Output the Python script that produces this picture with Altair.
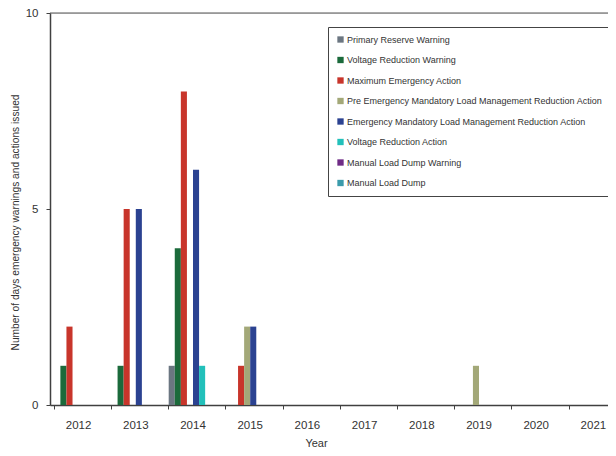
import altair as alt
import pandas as pd

years = ["2012", "2013", "2014", "2015", "2016", "2017", "2018", "2019", "2020", "2021"]
series = [
    "Primary Reserve Warning",
    "Voltage Reduction Warning",
    "Maximum Emergency Action",
    "Pre Emergency Mandatory Load Management Reduction Action",
    "Emergency Mandatory Load Management Reduction Action",
    "Voltage Reduction Action",
    "Manual Load Dump Warning",
    "Manual Load Dump",
]
colors = ["#6b7681", "#1b6a3b", "#c8352b", "#a3a878", "#2b4291", "#22c0ba", "#6f2b86", "#3b9bab"]

primary_reserve_warning = [0, 0, 1, 0, 0, 0, 0, 0, 0, 0]
voltage_reduction_warning = [1, 1, 4, 0, 0, 0, 0, 0, 0, 0]
maximum_emergency_action = [2, 5, 8, 1, 0, 0, 0, 0, 0, 0]
pre_emergency_mlm = [0, 0, 0, 2, 0, 0, 0, 1, 0, 0]
emergency_mlm = [0, 5, 6, 2, 0, 0, 0, 0, 0, 0]
voltage_reduction_action = [0, 0, 1, 0, 0, 0, 0, 0, 0, 0]
manual_load_dump_warning = [0, 0, 0, 0, 0, 0, 0, 0, 0, 0]
manual_load_dump = [0, 0, 0, 0, 0, 0, 0, 0, 0, 0]

all_values = [
    primary_reserve_warning,
    voltage_reduction_warning,
    maximum_emergency_action,
    pre_emergency_mlm,
    emergency_mlm,
    voltage_reduction_action,
    manual_load_dump_warning,
    manual_load_dump,
]

rows = []
for s, vals in zip(series, all_values):
    for y, v in zip(years, vals):
        rows.append({"Year": y, "Series": s, "Days": v})
df = pd.DataFrame(rows)

FONT = "Liberation Sans, Arial, sans-serif"
AXIS_COLOR = "#404040"
TEXT_COLOR = "#333333"

bars = alt.Chart(df).mark_bar().encode(
    x=alt.X(
        "Year:N",
        sort=years,
        scale=alt.Scale(range=[0, 572], paddingInner=0.15, paddingOuter=0.075),
        axis=alt.Axis(
            title="Year",
            labelAngle=0,
            bandPosition=0,
            tickSize=4,
            labelPadding=10,
            labelFontSize=11.5,
            titleFontSize=11,
            titleFontWeight="normal",
            titlePadding=7,
            titleX=266,
            domainColor=AXIS_COLOR,
            domainWidth=1.5,
            tickColor=AXIS_COLOR,
            labelColor=TEXT_COLOR,
            titleColor=TEXT_COLOR,
            grid=False,
        ),
    ),
    xOffset=alt.XOffset("Series:N", sort=series, scale=alt.Scale(domain=series, paddingInner=0, paddingOuter=0)),
    y=alt.Y(
        "Days:Q",
        scale=alt.Scale(domain=[0, 10]),
        axis=alt.Axis(
            title="Number of days emergency warnings and actions issued",
            values=[0, 5, 10],
            tickSize=4,
            labelPadding=8,
            labelFontSize=11.5,
            titleFontSize=10.2,
            titleFontWeight="normal",
            titlePadding=5,
            titleY=209,
            domainColor=AXIS_COLOR,
            domainWidth=1.5,
            tickColor=AXIS_COLOR,
            labelColor=TEXT_COLOR,
            titleColor=TEXT_COLOR,
            grid=False,
        ),
    ),
    color=alt.Color(
        "Series:N",
        sort=series,
        scale=alt.Scale(domain=series, range=colors),
        legend=alt.Legend(
            title=None,
            orient="none",
            legendX=278,
            legendY=14,
            symbolType="square",
            symbolSize=40,
            symbolStrokeWidth=0,
            labelFontSize=9,
            labelColor=TEXT_COLOR,
            labelOffset=2,
            rowPadding=10.5,
            padding=8,
            strokeColor="#444444",
            fillColor="white",
            labelLimit=400,
        ),
    ),
)

top_line = alt.Chart(pd.DataFrame({"v": [10]})).mark_rule(color="#555555", strokeWidth=1).encode(
    y=alt.Y("v:Q")
)

chart = (
    alt.layer(top_line, bars)
    .properties(
        width=558,
        height=392,
        autosize=alt.AutoSizeParams(type="none"),
        padding={"left": 42, "top": 5, "right": 0, "bottom": 43},
    )
    .configure_view(stroke=None)
    .configure(font=FONT)
)

chart.save("out.html", embed_options={"renderer": "svg", "actions": False})
